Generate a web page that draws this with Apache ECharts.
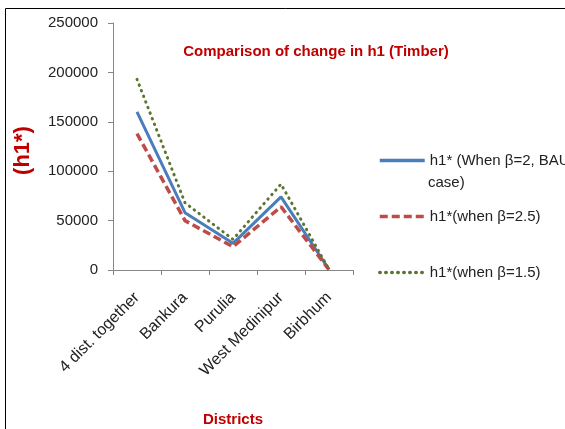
<!DOCTYPE html>
<html><head><meta charset="utf-8">
<script src="https://cdn.jsdelivr.net/npm/echarts@6/dist/echarts.min.js"></script>
<style>html,body{margin:0;padding:0;background:#fff}#c{width:565px;height:429px}</style>
</head><body><div id="c"></div>
<script>
const categories = ['4 dist. together', 'Bankura', 'Purulia', 'West Medinipur', 'Birbhum'];
const seriesNames = ['h1* (When β=2, BAU case)', 'h1*(when β=2.5)', 'h1*(when β=1.5)'];
const bau = [160000, 58000, 27000, 74000, 500];
const beta25 = [138000, 50000, 23500, 64000, 400];
const beta15 = [193000, 68000, 31000, 87000, 600];
const yTicks = [0, 50000, 100000, 150000, 200000, 250000];

const font = 'Liberation Sans, Arial, sans-serif';
const chart = echarts.init(document.getElementById('c'));
chart.setOption({
  animation: false,
  title: {
    text: 'Comparison of change in h1 (Timber)',
    left: 316, top: 44, textAlign: 'center', padding: 0,
    textStyle: { color: '#C00000', fontSize: 15, fontWeight: 'bold', fontFamily: font }
  },
  grid: { left: 113, top: 23, right: 212, bottom: 159, containLabel: false, outerBoundsMode: 'none' },
  legend: {
    orient: 'vertical', left: 378, top: 153, padding: 0,
    itemWidth: 45, itemHeight: 14, itemGap: 41,
    itemStyle: { color: 'rgba(0,0,0,0)', borderWidth: 0, opacity: 0 },
    lineStyle: { width: 3.5 },
    formatter: n => n === seriesNames[0] ? 'h1* (When β=2, BAU' : n,
    textStyle: { fontSize: 15, color: '#222', fontFamily: font },
    data: seriesNames
  },
  graphic: [
    { type: 'rect', shape: { x: 5.5, y: 8.5, width: 600, height: 500 }, style: { fill: 'none', stroke: '#000', lineWidth: 1 }, silent: true },
    { type: 'text', left: 428, top: 175, style: { text: 'case)', fontSize: 15, fill: '#222', fontFamily: font } }
  ],
  xAxis: {
    type: 'category', data: categories, boundaryGap: true,
    name: 'Districts', nameLocation: 'middle', nameGap: 142,
    nameTextStyle: { color: '#C00000', fontSize: 15, fontWeight: 'bold', fontFamily: font },
    axisLine: { lineStyle: { color: '#868686' } },
    axisTick: { show: true, length: 5, lineStyle: { color: '#868686' } },
    axisLabel: { rotate: 45, fontSize: 16, color: '#222', fontFamily: font, margin: 25, interval: 0 }
  },
  yAxis: {
    type: 'value', min: yTicks[0], max: yTicks[yTicks.length - 1], interval: 50000,
    name: '(h1*)', nameLocation: 'middle', nameGap: 79, nameRotate: 90,
    nameTextStyle: { color: '#C00000', fontSize: 22, fontWeight: 'bold', fontFamily: font, padding: [0, 8, 0, 0] },
    axisLine: { show: true, lineStyle: { color: '#868686' } },
    axisTick: { show: true, length: 5, lineStyle: { color: '#868686' } },
    splitLine: { show: false },
    axisLabel: { fontSize: 15, color: '#222', fontFamily: font, margin: 15, formatter: v => String(v) }
  },
  series: [
    { name: seriesNames[0], type: 'line', data: bau, symbol: 'none', color: '#4A7EBB',
      lineStyle: { width: 3, color: '#4A7EBB' } },
    { name: seriesNames[1], type: 'line', data: beta25, symbol: 'none', color: '#BE4B48',
      lineStyle: { width: 3.5, color: '#BE4B48', type: [8, 4] } },
    { name: seriesNames[2], type: 'line', data: beta15, symbol: 'none', color: '#5E7530',
      lineStyle: { width: 3, color: '#5E7530', type: [0.5, 5.5], cap: 'round' } }
  ]
});
</script></body></html>
